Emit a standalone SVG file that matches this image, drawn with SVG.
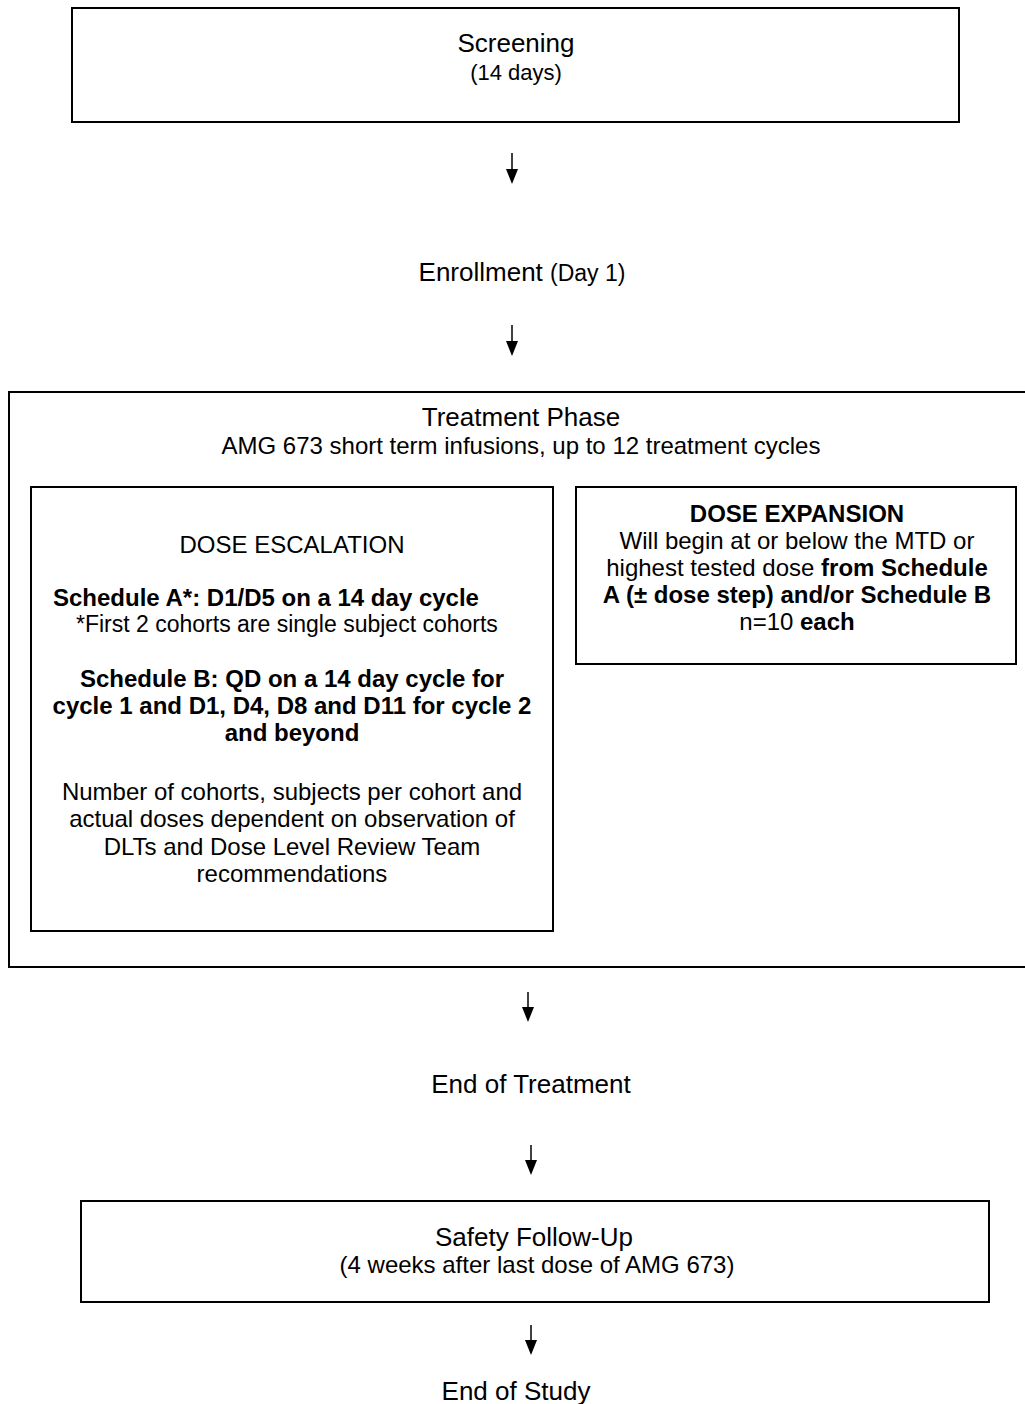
<svg xmlns="http://www.w3.org/2000/svg" width="1025" height="1404" viewBox="0 0 1025 1404">
<style>
text{font-family:"Liberation Sans",Arial,sans-serif;fill:#000}
.t{font-size:26px;text-anchor:middle}
.s{font-size:22px;text-anchor:middle}
.b{font-size:24px;text-anchor:middle}
.bs{font-size:24px}
.bold{font-weight:bold}
.box{fill:#fff;stroke:#000;stroke-width:2}
.ln{stroke:#000;stroke-width:1.5;fill:none}
</style>
<rect width="1025" height="1404" fill="#fff"/>
<g id="screening">
<rect class="box" x="72" y="8" width="887" height="114"/>
<text class="t" x="516" y="52">Screening</text>
<text class="s" x="516" y="80">(14 days)</text>
</g>
<g id="enrollment">
<text x="522" y="281" style="font-size:26px;text-anchor:middle">Enrollment <tspan style="font-size:23px">(Day 1)</tspan></text>
</g>
<g id="treatment">
<rect class="box" x="9" y="392" width="1040" height="575"/>
<text class="t" x="521" y="426">Treatment Phase</text>
<text class="b" x="521" y="454">AMG 673 short term infusions, up to 12 treatment cycles</text>
</g>
<g id="dose-escalation">
<rect class="box" x="31" y="487" width="522" height="444"/>
<text class="b" x="292" y="553">DOSE ESCALATION</text>
<text class="bs bold" x="53" y="606">Schedule A*: D1/D5 on a 14 day cycle</text>
<text x="76" y="632" style="font-size:23px">*First 2 cohorts are single subject cohorts</text>
<text class="b bold" x="292" y="687">Schedule B: QD on a 14 day cycle for</text>
<text class="b bold" x="292" y="714">cycle 1 and D1, D4, D8 and D11 for cycle 2</text>
<text class="b bold" x="292" y="741">and beyond</text>
<text class="b" x="292" y="800">Number of cohorts, subjects per cohort and</text>
<text class="b" x="292" y="827">actual doses dependent on observation of</text>
<text class="b" x="292" y="855">DLTs and Dose Level Review Team</text>
<text class="b" x="292" y="882">recommendations</text>
</g>
<g id="dose-expansion">
<rect class="box" x="576" y="487" width="440" height="177"/>
<text class="b bold" x="797" y="522">DOSE EXPANSION</text>
<text class="b" x="797" y="549">Will begin at or below the MTD or</text>
<text class="b" x="797" y="576">highest tested dose <tspan class="bold">from Schedule</tspan></text>
<text class="b bold" x="797" y="603">A (± dose step) and/or Schedule B</text>
<text class="b" x="797" y="630">n=10 <tspan class="bold">each</tspan></text>
</g>
<g id="end-of-treatment">
<text class="t" x="531" y="1093">End of Treatment</text>
</g>
<g id="safety-follow-up">
<rect class="box" x="81" y="1201" width="908" height="101"/>
<text class="t" x="534" y="1246">Safety Follow-Up</text>
<text class="b" x="537" y="1273">(4 weeks after last dose of AMG 673)</text>
</g>
<g id="end-of-study">
<text class="t" x="516" y="1400">End of Study</text>
</g>
<g id="connectors">
<line class="ln" x1="512" y1="153" x2="512" y2="170"/>
<polygon points="506,169 518,169 512,184"/>
<line class="ln" x1="512" y1="325" x2="512" y2="342"/>
<polygon points="506,341 518,341 512,356"/>
<line class="ln" x1="528" y1="992" x2="528" y2="1008"/>
<polygon points="522,1007 534,1007 528,1022"/>
<line class="ln" x1="531" y1="1145" x2="531" y2="1161"/>
<polygon points="525,1160 537,1160 531,1175"/>
<line class="ln" x1="531" y1="1325" x2="531" y2="1341"/>
<polygon points="525,1340 537,1340 531,1355"/>
</g>
</svg>
